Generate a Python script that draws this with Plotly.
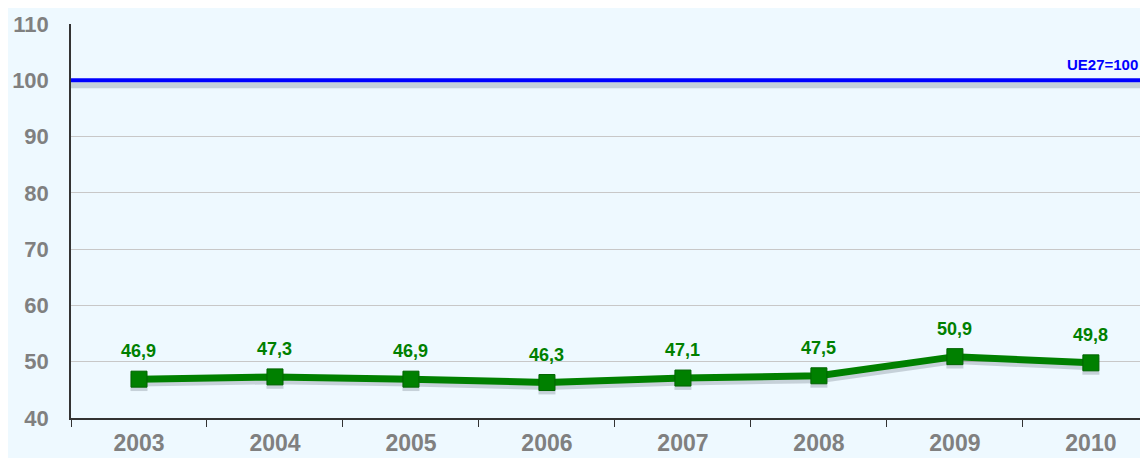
import plotly.graph_objects as go

years = ["2003", "2004", "2005", "2006", "2007", "2008", "2009", "2010"]
values = [46.9, 47.3, 46.9, 46.3, 47.1, 47.5, 50.9, 49.8]
labels = ["46,9", "47,3", "46,9", "46,3", "47,1", "47,5", "50,9", "49,8"]
eu_level = 100
eu_label = "UE27=100"
y_ticks = [40, 50, 60, 70, 80, 90, 100, 110]

bg = "#EEF9FF"
font_family = "Liberation Sans, Arial"
fig = go.Figure()

# shadow of the green series
fig.add_trace(go.Scatter(x=years, y=[v - 0.6 for v in values], mode="lines+markers",
                         line=dict(color="rgba(60,70,80,0.22)", width=8),
                         marker=dict(symbol="square", size=17, color="rgba(60,70,80,0.22)"),
                         hoverinfo="skip", showlegend=False))

fig.add_trace(go.Scatter(x=years, y=values, mode="lines+markers",
                         line=dict(color="#008000", width=7),
                         marker=dict(symbol="square", size=16, color="#008000",
                                     line=dict(color="#006400", width=1)),
                         showlegend=False))

for i, (v, lab) in enumerate(zip(values, labels)):
    fig.add_annotation(x=i, xref="x", y=v, yref="y", text=lab, showarrow=False, yshift=28,
                       font=dict(family=font_family, size=18, color="#008000", weight="bold"))

# reference line (EU27 = 100) with shadow
fig.add_shape(type="line", xref="paper", x0=0, x1=1, yref="y", y0=eu_level - 0.9, y1=eu_level - 0.9,
              line=dict(color="rgba(120,135,150,0.35)", width=6), layer="above")
fig.add_shape(type="line", xref="paper", x0=0, x1=1, yref="y", y0=eu_level, y1=eu_level,
              line=dict(color="#0000FF", width=4), layer="above")

fig.add_annotation(x=1, xref="paper", y=eu_level, yref="y", text=eu_label,
                   showarrow=False, xanchor="right", yanchor="bottom", xshift=-8, yshift=5,
                   font=dict(family=font_family, size=15, color="#0000FF", weight="bold"))

fig.update_layout(
    width=1140, height=450,
    margin=dict(l=63, r=0, t=16, b=40),
    paper_bgcolor=bg, plot_bgcolor=bg,
    xaxis=dict(type="category", range=[-0.5, 7.42], tickson="boundaries",
               ticks="outside", ticklen=7, tickcolor="#333333",
               showline=True, linecolor="#333333", linewidth=1.5,
               showgrid=False, zeroline=False, ticklabelstandoff=4,
               tickfont=dict(family=font_family, size=23, color="#808080", weight="bold")),
    yaxis=dict(range=[40, 110], tickvals=y_ticks, showgrid=True, gridcolor="#C8C8C8",
               showline=True, linecolor="#333333", linewidth=1.5, zeroline=False,
               ticks="", ticklabelstandoff=16,
               tickfont=dict(family=font_family, size=22, color="#808080", weight="bold")),
)

fig.write_html("out.html")
